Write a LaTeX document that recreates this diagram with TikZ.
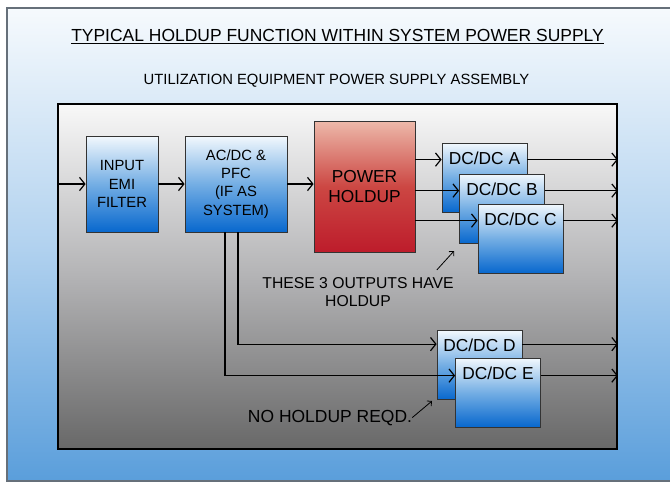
\documentclass[tikz,border=0pt]{standalone}
\usepackage{fontspec}
\setmainfont{Liberation Sans}
\usetikzlibrary{arrows.meta, positioning, calc}

\definecolor{skytop}{HTML}{F6FAFD}
\definecolor{skymid}{HTML}{B2D2EF}
\definecolor{skybot}{HTML}{5A9EDB}
\definecolor{greytop}{HTML}{F8F8F8}
\definecolor{greymid}{HTML}{B3B3B5}
\definecolor{greybot}{HTML}{686868}
\definecolor{bluetop}{HTML}{F2F8FD}
\definecolor{bluemid}{HTML}{74AEE4}
\definecolor{bluebot}{HTML}{0868CE}
\definecolor{redtop}{HTML}{EDB9AA}
\definecolor{redmid}{HTML}{CC4743}
\definecolor{redbot}{HTML}{BD1C2B}
\definecolor{framegrey}{HTML}{66707A}

\begin{document}
\begin{tikzpicture}[
    x=0.75pt, y=-0.75pt,
    >={Straight Barb[length=4pt,width=10pt]},
    titlefont/.style={
        font=\fontsize{13.1pt}{15pt}\selectfont,
        inner sep=0pt
    },
    subfont/.style={
        font=\fontsize{11.1pt}{13.5pt}\selectfont,
        inner sep=0pt
    },
    boxfont/.style={
        font=\fontsize{11.1pt}{13.6pt}\selectfont
    },
    bigfont/.style={
        font=\fontsize{13pt}{15pt}\selectfont
    },
    bluebox/.style={
        draw=black!80,
        line width=0.6pt,
        inner sep=0pt,
        align=center,
        top color=bluetop,
        bottom color=bluebot,
        middle color=bluemid
    },
    redbox/.style={
        draw=black!80,
        line width=0.6pt,
        inner sep=0pt,
        align=center,
        top color=redtop,
        bottom color=redbot,
        middle color=redmid
    },
    dclabel/.style={
        anchor=north,
        inner sep=0pt,
        yshift=-6.75pt,
        font=\fontsize{13pt}{15pt}\selectfont
    },
    dcbox/.style={
        bluebox,
        minimum width=63.75pt,
        minimum height=51.75pt,
        label={[dclabel]north:#1}
    },
    assybox/.style={
        draw=black,
        line width=1.4pt,
        inner sep=0pt,
        top color=greytop,
        bottom color=greybot,
        middle color=greymid
    },
    wire/.style={
        ->,
        line width=0.9pt,
        draw=black
    },
    pointer/.style={
        -{Straight Barb[length=2.5pt,width=5pt]},
        line width=0.6pt,
        draw=black
    },
    note/.style={
        inner sep=0pt,
        align=center
    }
]

\useasboundingbox (0,0) rectangle (670,487);

% outer frame
\fill[top color=skytop, bottom color=skybot, middle color=skymid]
    (7,8) rectangle (670,481);
\draw[framegrey, line width=0.8pt] (670,8) -- (7,8) -- (7,481) -- (670,481);

% headings
\node[titlefont, anchor=base] (title) at (337.5,41)
    {\underline{TYPICAL HOLDUP FUNCTION WITHIN SYSTEM POWER SUPPLY}};
\node[subfont, anchor=base] (subtitle) at (336.5,84)
    {UTILIZATION EQUIPMENT POWER SUPPLY ASSEMBLY};

% assembly
\node[assybox, minimum width=419.25pt, minimum height=258.75pt] (assy) at (337.5,276.5) {};

\node[bluebox, boxfont, minimum width=54pt, minimum height=72pt] (emi) at (122,184)
    {INPUT\\EMI\\FILTER};
\node[bluebox, boxfont, minimum width=76.5pt, minimum height=72pt] (acdc) at (236,184)
    {AC/DC \&\\PFC\\(IF AS\\SYSTEM)};
\node[redbox, bigfont, minimum width=75.75pt, minimum height=98.25pt] (hold) at (364.5,186.5)
    {POWER\\HOLDUP};

\node[dcbox=DC/DC A] (dcA) at (484.5,177.5) {};
\node[dcbox=DC/DC B] (dcB) at (502,208.5) {};
\node[dcbox=DC/DC C] (dcC) at (520.5,238.5) {};
\node[dcbox=DC/DC D] (dcD) at (479.5,365) {};
\node[dcbox=DC/DC E] (dcE) at (498,392.5) {};

% feed points
\coordinate (inA) at ([yshift=-12.75pt]dcA.north west);
\coordinate (inB) at ([yshift=-12.75pt]dcB.north west);
\coordinate (inC) at ([yshift=-12.75pt]dcC.north west);
\coordinate (inD) at ([yshift=-10.5pt]dcD.north west);
\coordinate (inE) at ([yshift=-13.5pt]dcE.north west);
\coordinate (tapE) at ([xshift=-8.25pt]acdc.south);
\coordinate (tapD) at ([xshift=1.5pt]acdc.south);

% main path
\draw[wire] (assy.west |- emi) -- (emi.west);
\draw[wire] (emi.east) -- (acdc.west);
\draw[wire] (acdc.east) -- (acdc.east -| hold.west);

\foreach \k in {A,B,C}{
    \draw[wire] (hold.east |- in\k) -- (in\k);
}
\foreach \k in {A,B,C,D,E}{
    \draw[wire] (dc\k.east |- in\k) -- (in\k -| assy.east);
}
\draw[wire] (tapD) |- (inD);
\draw[wire] (tapE) |- (inE);

% notes
\node[note, font=\fontsize{11.8pt}{13.9pt}\selectfont] (held) at (358,292)
    {THESE 3 OUTPUTS HAVE\\HOLDUP};
\node[note, font=\fontsize{13.1pt}{15pt}\selectfont, anchor=base] (nohold) at (330,422)
    {NO HOLDUP REQD.};

\coordinate (heldtip) at (454,251);
\coordinate (noholdtip) at (432,401);
\draw[pointer] ($(held.north east)+(-17,-7)$) -- (heldtip);
\draw[pointer] (nohold.east) -- (noholdtip);

\end{tikzpicture}
\end{document}
